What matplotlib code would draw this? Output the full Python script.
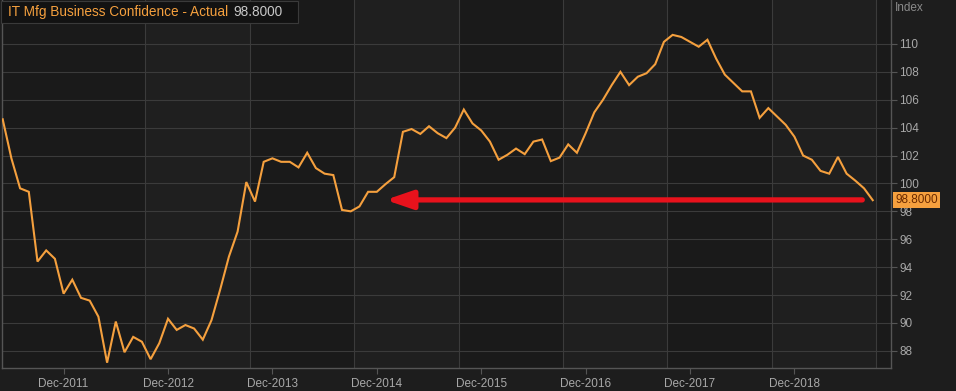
import matplotlib
matplotlib.use("Agg")
import matplotlib.pyplot as plt
import pandas as pd
import numpy as np

# monthly index, May 2011 - Sep 2019
months = pd.date_range("2011-05-01", periods=101, freq="MS")
values = [
    104.6, 101.8, 99.65, 99.4, 94.4, 95.2, 94.6, 92.1, 93.1, 91.8,
    91.6, 90.45, 87.15, 90.1, 87.9, 89.0, 88.65, 87.4, 88.55, 90.3,
    89.5, 89.85, 89.6, 88.8, 90.2, 92.4, 94.75, 96.55, 100.1, 98.7,
    101.55, 101.8, 101.55, 101.55, 101.15, 102.2, 101.1, 100.7, 100.6, 98.1,
    98.0, 98.35, 99.4, 99.4, 99.95, 100.45, 103.7, 103.9, 103.55, 104.1,
    103.6, 103.25, 104.0, 105.3, 104.3, 103.8, 103.0, 101.7, 102.05, 102.5,
    102.1, 103.0, 103.15, 101.6, 101.85, 102.8, 102.2, 103.6, 105.1, 106.0,
    107.05, 108.0, 107.05, 107.65, 107.9, 108.55, 110.15, 110.65, 110.5, 110.15,
    109.8, 110.3, 108.95, 107.8, 107.2, 106.6, 106.6, 104.7, 105.4, 104.8,
    104.2, 103.35, 102.0, 101.7, 100.9, 100.7, 101.9, 100.7, 100.2, 99.65,
    98.8,
]
y_ticks = list(range(88, 111, 2))
last_label = "98.8000"
title = "IT Mfg Business Confidence - Actual"

orange = "#f5a03e"
fig_bg = "#1d1d1d"
ax_bg = "#1a1a1a"
band_bg = "#1f1f1f"
grid_c = "#3b3b3b"
text_c = "#a8a8a8"

plt.rcParams["font.family"] = ["Liberation Sans", "DejaVu Sans"]

fig = plt.figure(figsize=(9.56, 3.91), dpi=100, facecolor=fig_bg)
ax = fig.add_axes([2 / 956, 23 / 391, 889 / 956, 368 / 391])
ax.set_facecolor(ax_bg)

x = np.arange(len(values))
ax.set_xlim(-0.08, 102.1)
ax.set_ylim(86.77, 113.15)

# alternating year bands and vertical grid lines
vgrid = [16.4 + 12 * k for k in range(8)]
edges = [-0.08] + vgrid + [102.1]
for i in range(len(edges) - 1):
    if i % 2 == 1:
        ax.axvspan(edges[i], edges[i + 1], color=band_bg, zorder=0, lw=0)
for v in vgrid:
    ax.axvline(v, color=grid_c, lw=0.8, zorder=1)
for t in y_ticks:
    ax.axhline(t, color=grid_c, lw=0.8, zorder=1)

ax.plot(x, values, color=orange, lw=1.5, zorder=3, solid_joinstyle="miter")

# x ticks on December
dec_idx = [i for i, m in enumerate(months) if m.month == 12]
ax.set_xticks(dec_idx)
ax.set_xticklabels([months[i].strftime("Dec-%Y") for i in dec_idx])
ax.set_yticks(y_ticks)
ax.set_yticklabels([str(t) for t in y_ticks])
ax.yaxis.tick_right()
ax.tick_params(axis="both", colors="#555555", labelcolor=text_c, labelsize=8.5,
               length=4, width=0.8)
ax.tick_params(axis="y", pad=2)
ax.tick_params(axis="x", pad=3)
for lab in ax.get_yticklabels():
    lab.set_horizontalalignment("left")

for side in ["left", "right", "bottom"]:
    ax.spines[side].set_color("#555555")
    ax.spines[side].set_linewidth(1.0)
ax.spines["top"].set_visible(False)

# "Index" label
fig.text(895 / 956, 1 - 8 / 391, "Index", color="#8a8a8a", fontsize=8.5,
         ha="left", va="center")

# title box
ax.add_patch(plt.Rectangle((1 / 956, 1 - 23 / 391), 297 / 956, 22 / 391,
                           transform=fig.transFigure, facecolor="#121212",
                           edgecolor="#3a3a3a", lw=0.8, zorder=5, clip_on=False))
t1 = fig.text(8 / 956, 1 - 12 / 391, title, color=orange, fontsize=9.8,
              ha="left", va="center", zorder=6)
fig.canvas.draw()
bb = t1.get_window_extent()
fig.text(bb.x1 / fig.bbox.width + 5 / 956, 1 - 12 / 391, last_label,
         color="#c8c8c8", fontsize=9.8, ha="left", va="center", zorder=6)

# last value tag on the axis
ax.annotate(last_label, xy=(1.0, values[-1]), xycoords=("axes fraction", "data"),
            xytext=(3, 0), textcoords="offset points", ha="left", va="center",
            fontsize=8.5, color="#6b2a00",
            bbox=dict(boxstyle="square,pad=0.15", fc=orange, ec="none"),
            annotation_clip=False, zorder=6)

# red arrow
ax.annotate("", xy=(44.0, 98.82), xytext=(98.8, 98.82),
            arrowprops=dict(arrowstyle="-|>,head_length=1.6,head_width=0.55",
                            color="#e8121c", lw=3.8, shrinkA=0, shrinkB=0),
            zorder=4)

fig.savefig("out.png", dpi=100, facecolor=fig_bg)
